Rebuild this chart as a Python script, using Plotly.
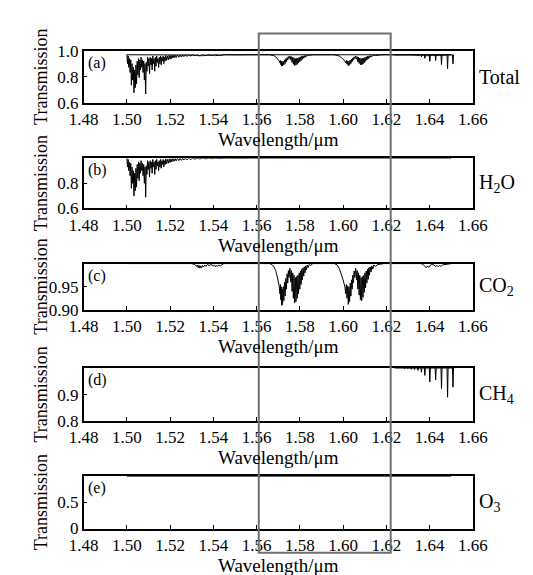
import plotly.graph_objects as go

# ---------------- data ----------------
x_ticks = [1.48, 1.50, 1.52, 1.54, 1.56, 1.58, 1.60, 1.62, 1.64, 1.66]

h2o_wl = [1.5000, 1.5003, 1.5006, 1.5009, 1.5012, 1.5015, 1.5018, 1.5021, 1.5024, 1.5027,
          1.5030, 1.5033, 1.5036, 1.5039, 1.5042, 1.5045, 1.5048, 1.5051, 1.5054, 1.5057,
          1.5060, 1.5063, 1.5066, 1.5069, 1.5072, 1.5075, 1.5078, 1.5081, 1.5084, 1.5087,
          1.5090, 1.5093, 1.5096, 1.5099, 1.5102, 1.5105, 1.5108, 1.5111, 1.5114, 1.5117,
          1.5120, 1.5123, 1.5126, 1.5129, 1.5132, 1.5135, 1.5138, 1.5141, 1.5144, 1.5147,
          1.5150, 1.5153, 1.5156, 1.5159, 1.5162, 1.5165, 1.5168, 1.5171, 1.5174, 1.5177,
          1.5180, 1.5184, 1.5188, 1.5192, 1.5196, 1.5200, 1.5204, 1.5208, 1.5213, 1.5218,
          1.5223, 1.5228, 1.5234, 1.5240, 1.5246, 1.5252, 1.5258, 1.5264, 1.5270, 1.5278,
          1.5286, 1.5295, 1.5305, 1.5315, 1.5325, 1.5338, 1.5350, 1.5365, 1.5380, 1.5395,
          1.5410, 1.5430, 1.5450, 1.5475, 1.5500, 1.5530, 1.5560, 1.5800, 1.6000, 1.6200,
          1.6300, 1.6400, 1.6500]
h2o_T = [1.000, 0.930, 0.990, 0.900, 0.970, 0.860, 0.960, 0.760, 0.930, 0.800,
         0.900, 0.700, 0.880, 0.740, 0.920, 0.770, 0.950, 0.840, 0.970, 0.820,
         0.960, 0.880, 0.980, 0.900, 0.960, 0.860, 0.950, 0.800, 0.930, 0.690,
         0.940, 0.870, 0.980, 0.910, 0.970, 0.850, 0.980, 0.920, 0.970, 0.880,
         0.990, 0.930, 0.970, 0.870, 0.980, 0.910, 0.990, 0.940, 0.970, 0.900,
         0.980, 0.930, 0.990, 0.920, 0.980, 0.950, 0.990, 0.930, 0.980, 0.950,
         0.995, 0.955, 0.990, 0.960, 0.995, 0.965, 0.995, 0.970, 0.997, 0.975,
         0.997, 0.978, 0.998, 0.980, 0.998, 0.982, 0.999, 0.985, 0.999, 0.987,
         0.999, 0.990, 1.000, 0.992, 1.000, 0.994, 1.000, 0.995, 1.000, 0.996,
         1.000, 0.997, 1.000, 0.998, 1.000, 0.999, 1.000, 1.000, 1.000, 1.000,
         0.999, 1.000, 1.000]

co2_wl = [1.5000, 1.5300, 1.5315, 1.5322, 1.5326, 1.5330, 1.5334, 1.5338, 1.5342, 1.5346,
          1.5350, 1.5355, 1.5360, 1.5366, 1.5372, 1.5380, 1.5390, 1.5400, 1.5405, 1.5410,
          1.5415, 1.5420, 1.5426, 1.5432, 1.5440, 1.5450,
          1.5660, 1.5670, 1.5680, 1.5688, 1.5695, 1.5700, 1.5705,
          1.5708, 1.5710, 1.5712, 1.5714, 1.5716, 1.5718, 1.5720, 1.5723, 1.5726, 1.5729,
          1.5732, 1.5735, 1.5738, 1.5741, 1.5744, 1.5747, 1.5750, 1.5754,
          1.5758, 1.5761, 1.5764, 1.5767, 1.5770, 1.5773, 1.5776, 1.5779, 1.5782, 1.5785,
          1.5788, 1.5791, 1.5794, 1.5797, 1.5800, 1.5803, 1.5806, 1.5809, 1.5812, 1.5815,
          1.5818, 1.5821, 1.5824, 1.5827, 1.5830, 1.5834, 1.5838, 1.5843, 1.5850, 1.5860,
          1.5960, 1.5972, 1.5982, 1.5992, 1.6000, 1.6008,
          1.6012, 1.6015, 1.6018, 1.6021, 1.6024, 1.6027, 1.6030, 1.6033, 1.6036, 1.6039,
          1.6042, 1.6045, 1.6048, 1.6051, 1.6054, 1.6058,
          1.6062, 1.6065, 1.6068, 1.6071, 1.6074, 1.6077, 1.6080, 1.6083, 1.6086, 1.6089,
          1.6092, 1.6095, 1.6098, 1.6101, 1.6104, 1.6107, 1.6110, 1.6113, 1.6116, 1.6119,
          1.6122, 1.6125, 1.6129, 1.6133, 1.6137, 1.6142, 1.6150, 1.6160, 1.6175, 1.6190,
          1.6360, 1.6370, 1.6378, 1.6384, 1.6390, 1.6396, 1.6402, 1.6410, 1.6420, 1.6428,
          1.6434, 1.6440, 1.6446, 1.6452, 1.6460, 1.6470, 1.6480, 1.6490, 1.6500]
co2_T = [1.000, 1.000, 0.998, 0.994, 0.997, 0.991, 0.996, 0.990, 0.995, 0.991,
         0.996, 0.993, 0.997, 0.994, 0.998, 0.996, 0.998, 0.995, 0.997, 0.993,
         0.996, 0.994, 0.997, 0.995, 0.998, 1.000,
         1.000, 0.998, 0.993, 0.985, 0.973, 0.962, 0.950,
         0.935, 0.955, 0.922, 0.950, 0.910, 0.945, 0.912, 0.950, 0.920, 0.960,
         0.930, 0.968, 0.945, 0.978, 0.958, 0.985, 0.970, 0.990,
         0.960, 0.985, 0.940, 0.980, 0.925, 0.975, 0.915, 0.970, 0.918, 0.972,
         0.925, 0.975, 0.935, 0.980, 0.945, 0.984, 0.955, 0.988, 0.965, 0.991,
         0.973, 0.993, 0.980, 0.995, 0.986, 0.997, 0.991, 0.998, 0.996, 1.000,
         1.000, 0.997, 0.990, 0.978, 0.965, 0.950,
         0.935, 0.955, 0.925, 0.952, 0.912, 0.950, 0.918, 0.958, 0.930, 0.965,
         0.945, 0.975, 0.958, 0.984, 0.970, 0.990,
         0.965, 0.985, 0.945, 0.980, 0.932, 0.975, 0.922, 0.970, 0.920, 0.972,
         0.927, 0.975, 0.938, 0.980, 0.948, 0.984, 0.958, 0.988, 0.966, 0.991,
         0.975, 0.993, 0.982, 0.995, 0.988, 0.997, 0.994, 0.998, 0.999, 1.000,
         1.000, 0.998, 0.994, 0.991, 0.995, 0.992, 0.996, 0.998, 0.997, 0.994,
         0.996, 0.993, 0.996, 0.994, 0.997, 0.998, 0.999, 1.000, 1.000]

# CH4 absorption lines: centre wavelength and minimum transmission
ch4_line_wl = [1.6240, 1.6255, 1.6270, 1.6285, 1.6300, 1.6315, 1.6330, 1.6346,
               1.6362, 1.6378, 1.6401, 1.6428, 1.6455, 1.6483, 1.6508]
ch4_line_min = [0.999, 0.998, 0.998, 0.997, 0.997, 0.995, 0.994, 0.991,
                0.984, 0.972, 0.948, 0.955, 0.923, 0.890, 0.928]

# O3: no visible absorption in this window
o3_wl = [1.5000, 1.6500]
o3_T = [1.000, 1.000]

# broadband continuum factor visible in the total transmission
total_continuum = 0.97

# ---------------- helpers ----------------
W, H = 533, 575
px_x = lambda p: p / W
px_y = lambda p: 1 - p / H

def sticks(centres, mins, half=0.00025):
    xs, ys = [], []
    for c, m in zip(centres, mins):
        xs += [c - half, c, c + half]
        ys += [1.0, m, 1.0]
    return xs, ys

ch4_wl, ch4_T = sticks(ch4_line_wl, ch4_line_min)

# panel geometry (pixel top/bottom of each frame)
panels = [
    dict(top=35, bot=89, rng=[0.6, 1.0], tv=[0.6, 0.8, 1.0], tt=["0.6", "0.8", "1.0"],
         lab="(a)", right="Total"),
    dict(top=146, bot=198, rng=[0.6, 1.0], tv=[0.6, 0.8], tt=["0.6", "0.8"],
         lab="(b)", right="H<sub>2</sub>O"),
    dict(top=255, bot=303, rng=[0.9, 1.0], tv=[0.90, 0.95], tt=["0.90", "0.95"],
         lab="(c)", right="CO<sub>2</sub>"),
    dict(top=363, bot=418, rng=[0.8, 1.0], tv=[0.8, 0.9], tt=["0.8", "0.9"],
         lab="(d)", right="CH<sub>4</sub>"),
    dict(top=475, bot=529, rng=[0.0, 1.0], tv=[0, 0.5], tt=["0", "0.5"],
         lab="(e)", right="O<sub>3</sub>"),
]

xl, xr = 64.2, 476.7
FONT = "Liberation Serif, Times New Roman, serif"
LINE = dict(color="#000000", width=1.0)

fig = go.Figure()

series = {
    0: [(h2o_wl, [total_continuum * v for v in h2o_T]),
        (co2_wl, [total_continuum * v for v in co2_T]),
        (ch4_wl, [total_continuum * v for v in ch4_T])],
    1: [(h2o_wl, h2o_T)],
    2: [(co2_wl, co2_T)],
    3: [(ch4_wl, ch4_T)],
    4: [(o3_wl, o3_T)],
}

annotations = []
for i, p in enumerate(panels):
    n = "" if i == 0 else str(i + 1)
    for xs, ys in series[i]:
        fig.add_trace(go.Scatter(x=xs, y=ys, mode="lines", line=LINE,
                                 xaxis="x" + n, yaxis="y" + n, showlegend=False,
                                 hoverinfo="skip", cliponaxis=True))
    y0, y1 = px_y(p["bot"]), px_y(p["top"])
    fig.layout["xaxis" + n] = dict(
        domain=[px_x(xl), px_x(xr)], anchor="y" + n, range=[1.48, 1.66],
        tickvals=x_ticks, ticktext=[f"{v:.2f}" for v in x_ticks],
        ticks="inside", ticklen=4, tickcolor="black", tickwidth=1,
        showline=True, linecolor="black", linewidth=1.5, mirror=True,
        showgrid=False, zeroline=False,
        tickfont=dict(family=FONT, size=17, color="black"))
    fig.layout["yaxis" + n] = dict(
        domain=[y0, y1], anchor="x" + n, range=p["rng"],
        tickvals=p["tv"], ticktext=p["tt"],
        ticks="inside", ticklen=4, tickcolor="black", tickwidth=1,
        showline=True, linecolor="black", linewidth=1.5, mirror=True,
        showgrid=False, zeroline=False,
        tickfont=dict(family=FONT, size=17, color="black"))
    ymid = (y0 + y1) / 2
    annotations += [
        dict(text="Transmission", xref="paper", yref="paper", x=px_x(19), y=ymid,
             textangle=-90, showarrow=False, xanchor="center", yanchor="middle",
             font=dict(family=FONT, size=18, color="black")),
        dict(text="Wavelength/μm", xref="paper", yref="paper",
             x=px_x((xl + xr) / 2), y=px_y(p["bot"] + 38), showarrow=False,
             xanchor="center", yanchor="middle",
             font=dict(family=FONT, size=19, color="black")),
        dict(text=p["right"], xref="paper", yref="paper", x=px_x(481), y=ymid,
             showarrow=False, xanchor="left", yanchor="middle",
             font=dict(family=FONT, size=20, color="black")),
        dict(text=p["lab"], xref="paper", yref="paper", x=px_x(67),
             y=px_y(p["top"] + 1), showarrow=False, xanchor="left", yanchor="top",
             font=dict(family=FONT, size=16, color="black")),
    ]

fig.update_layout(
    width=W, height=H, margin=dict(l=0, r=0, t=0, b=0),
    paper_bgcolor="white", plot_bgcolor="white",
    annotations=annotations,
    shapes=[dict(type="rect", xref="x", yref="paper", x0=1.561, x1=1.622,
                 y0=px_y(554), y1=px_y(17),
                 line=dict(color="#6f6f6f", width=2), fillcolor="rgba(0,0,0,0)",
                 layer="above")],
)

fig.write_html("out.html")
